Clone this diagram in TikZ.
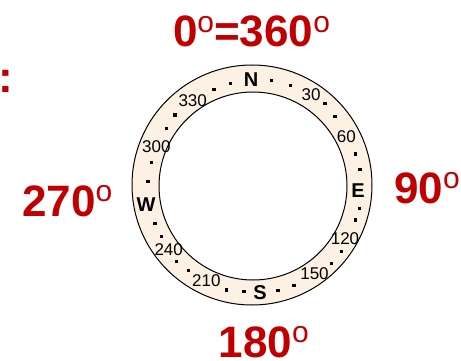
\documentclass[tikz,border=0pt]{standalone}
\usepackage{fontspec}
\setmainfont{Liberation Sans}
\usepackage{tikz}
\definecolor{degred}{RGB}{192,0,0}
\definecolor{ringfill}{RGB}{253,241,228}
\newcommand{\degsup}{\raisebox{14.7pt}{\fontsize{30}{30}\selectfont\mdseries o}}

\begin{document}
\begin{tikzpicture}[x=1pt,y=-1pt,
  bigdeg/.style={inner sep=0pt,text=degred,font=\fontsize{44}{44}\selectfont\bfseries},
  ringnum/.style={inner sep=0pt,font=\fontsize{17}{17}\selectfont},
  cardinal/.style={inner sep=0pt,font=\fontsize{20}{20}\selectfont\bfseries},
  tickdot/.style={rectangle,fill=black,inner sep=0pt,minimum size=3.5pt}]
\useasboundingbox (0,0) rectangle (461,361);
% compass ring
\node[circle,draw=black,line width=1pt,fill=ringfill,minimum size=240pt,inner sep=0pt] (outer) at (252,185) {};
\node[circle,draw=black,line width=1pt,fill=white,minimum size=188pt,inner sep=0pt] (inner) at (253,186) {};
% dots between the marks
\foreach \x/\y [count=\i] in {214/89.3,230.5/83.5,271.7/80.7,290.3/85.3,325/103.3,335/116.7,
    355.5/154,360/169.5,359.7/208.3,355.5/220,341.7/251.7,331.7/263.3,
    294/285.5,278/290.3,244/291.7,226.5/290,188.3/270.7,176.7/261.7,
    161.5/236.7,155/223.3,148.2/181.7,151.5/162.7,166.7/128.3,175/115}
  \node[tickdot] (dot\i) at (\x,\y) {};
% bearings on the ring
\foreach \t/\x/\y in {30/311/95,60/346.3/137,120/345/238.8,150/314.5/274,
    210/206.3/280.5,240/168.7/250,300/156.3/147,330/192.7/100.5}
  \node[ringnum] (deg\t) at (\x,\y) {\t};
\foreach \t/\x/\y in {N/251/80,E/358/191,S/260/293,W/146/205}
  \node[cardinal] (pt\t) at (\x,\y) {\t};
% big labels
\node[bigdeg,anchor=base] (north) at (251.5,47) {0\degsup=360\degsup};
\node[bigdeg,anchor=base west] (east) at (394,203) {90\degsup};
\node[bigdeg,anchor=base west] (south) at (218.5,357) {180\degsup};
\node[bigdeg,anchor=base west] (west) at (22,216) {270\degsup};
\node[bigdeg,anchor=base west] (colon) at (-1.7,93) {:};
\end{tikzpicture}
\end{document}
